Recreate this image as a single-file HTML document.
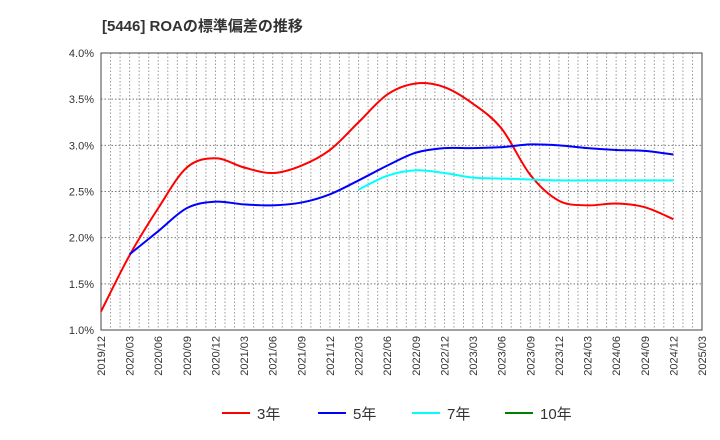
<!DOCTYPE html>
<html><head><meta charset="utf-8"><style>
body{margin:0;background:#fff;font-family:"Liberation Sans","Noto Sans CJK JP",sans-serif}
#c{position:absolute;left:0;top:0}
</style></head><body>
<svg id="c" width="720" height="440" xmlns="http://www.w3.org/2000/svg">
<text x="102" y="31" font-size="15" font-weight="bold" fill="#333" font-family="Liberation Sans, Noto Sans CJK JP, sans-serif">[5446]  ROAの標準偏差の推移</text>
<g id="grid"></g><g id="axes"></g><g id="series"></g><g id="legend"></g>
</svg>
<script>
const xLabels=["2019/12","2020/03","2020/06","2020/09","2020/12","2021/03","2021/06","2021/09","2021/12","2022/03","2022/06","2022/09","2022/12","2023/03","2023/06","2023/09","2023/12","2024/03","2024/06","2024/09","2024/12","2025/03"];
const yTicks=[1.0,1.5,2.0,2.5,3.0,3.5,4.0];
const s3=[1.20,1.81,2.32,2.76,2.86,2.76,2.70,2.78,2.95,3.25,3.55,3.67,3.63,3.45,3.18,2.68,2.40,2.35,2.37,2.33,2.20];
const s5=[null,1.82,2.07,2.32,2.39,2.36,2.35,2.38,2.47,2.62,2.78,2.92,2.97,2.97,2.98,3.01,3.00,2.97,2.95,2.94,2.90];
const s7=[null,null,null,null,null,null,null,null,null,2.52,2.67,2.73,2.70,2.65,2.64,2.63,2.62,2.62,2.62,2.62,2.62];
const s10=[];
const NS="http://www.w3.org/2000/svg";
const X0=101,X1=702,Y0=330,Y1=53;
const xq=i=>X0+(X1-X0)*i/21;
const y=v=>Y0-(v-1)*(Y0-Y1)/3;
function mk(t,a,p){const e=document.createElementNS(NS,t);for(const k in a)e.setAttribute(k,a[k]);p.appendChild(e);return e;}
const grid=document.getElementById('grid'),axes=document.getElementById('axes'),ser=document.getElementById('series'),leg=document.getElementById('legend');
for(let m=1;m<63;m++){const xx=X0+(X1-X0)*m/63;const l=mk('line',{x1:xx,x2:xx,y1:Y1,y2:Y0,stroke:'#999','stroke-dasharray':'1.5,2','stroke-width':1},grid);

}
yTicks.forEach(v=>{const l=mk('line',{x1:X0,x2:X1,y1:y(v),y2:y(v),stroke:'#777','stroke-dasharray':'1.5,2','stroke-width':1},grid);


const t=mk('text',{x:X0-7,y:y(v)+4,'text-anchor':'end','font-size':11,fill:'#333'},axes);t.textContent=v.toFixed(1)+'%';

});
xLabels.forEach((s,i)=>{const t=mk('text',{transform:`translate(${xq(i)+4},${Y0+6}) rotate(-90)`,'text-anchor':'end','font-size':11,fill:'#333'},axes);t.textContent=s;

});
const fr=mk('rect',{x:X0,y:Y1,width:X1-X0,height:Y0-Y1,fill:'none',stroke:'#444','stroke-width':1},axes);


function path(arr){const p=[];arr.forEach((v,i)=>{if(v!=null)p.push([xq(i),y(v)]);});if(p.length<2)return'';
let d=`M${p[0][0]},${p[0][1]}`;for(let i=0;i<p.length-1;i++){const a=p[i-1]||p[i],b=p[i],c=p[i+1],e=p[i+2]||c;
d+=` C${b[0]+(c[0]-a[0])/6},${b[1]+(c[1]-a[1])/6} ${c[0]-(e[0]-b[0])/6},${c[1]-(e[1]-b[1])/6} ${c[0]},${c[1]}`;}return d;}
const defs=[[s3,'#ff0000','3年','line-3yr'],[s5,'#0000ff','5年','line-5yr'],[s7,'#00ffff','7年','line-7yr'],[s10,'#008000','10年','line-10yr']];
defs.forEach(([a,c,n,nm],k)=>{const d=path(a);if(d){const e=mk('path',{d:d,fill:'none',stroke:c,'stroke-width':2},ser);

}
const lx=[222,318,412,505][k];
const g=mk('g',{},leg);


mk('line',{x1:lx,x2:lx+28,y1:413,y2:413,stroke:c,'stroke-width':2},g);
const t=mk('text',{x:lx+35,y:419,'font-size':15,fill:'#333'},g);t.textContent=n;});
</script>
</body></html>
